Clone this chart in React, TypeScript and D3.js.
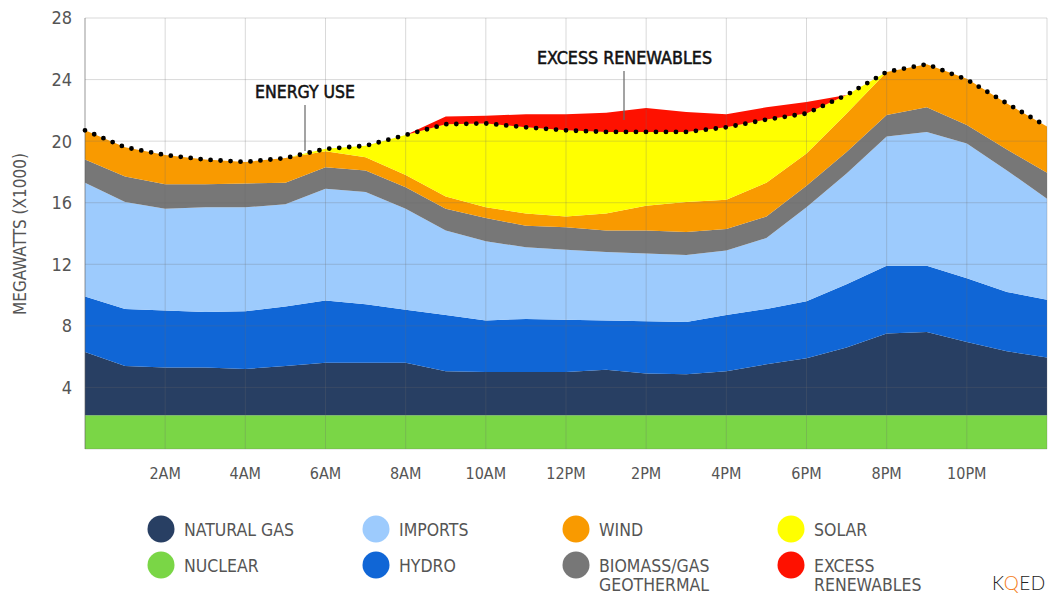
import * as d3 from 'd3';
import React, { useRef, useEffect } from 'react';

// hourly values, megawatts (x1000)
const hours = [0, 1, 2, 3, 4, 5, 6, 7, 8, 9, 10, 11, 12, 13, 14, 15, 16, 17, 18, 19, 20, 21, 22, 23, 24];
const nuclear = [2.2, 2.2, 2.2, 2.2, 2.2, 2.2, 2.2, 2.2, 2.2, 2.2, 2.2, 2.2, 2.2, 2.2, 2.2, 2.2, 2.2, 2.2, 2.2, 2.2, 2.2, 2.2, 2.2, 2.2, 2.2];
const naturalGas = [4.1, 3.2, 3.1, 3.1, 3.0, 3.2, 3.4, 3.4, 3.4, 2.85, 2.8, 2.8, 2.8, 2.95, 2.7, 2.65, 2.85, 3.3, 3.7, 4.4, 5.3, 5.4, 4.75, 4.15, 3.75];
const hydro = [3.6, 3.7, 3.7, 3.6, 3.75, 3.85, 4.05, 3.8, 3.45, 3.65, 3.35, 3.45, 3.4, 3.2, 3.4, 3.4, 3.65, 3.6, 3.7, 4.1, 4.4, 4.3, 4.15, 3.85, 3.75];
const imports = [7.4, 6.95, 6.6, 6.8, 6.75, 6.65, 7.25, 7.3, 6.55, 5.5, 5.15, 4.65, 4.55, 4.45, 4.4, 4.35, 4.2, 4.6, 6.1, 7.2, 8.4, 8.7, 8.75, 7.9, 6.55];
const biomass = [1.5, 1.65, 1.6, 1.5, 1.55, 1.4, 1.4, 1.4, 1.4, 1.4, 1.5, 1.4, 1.45, 1.4, 1.5, 1.5, 1.4, 1.4, 1.4, 1.4, 1.4, 1.6, 1.2, 1.35, 1.7];
const wind = [1.9, 1.9, 1.9, 1.6, 1.4, 1.6, 1.05, 0.85, 0.8, 0.8, 0.7, 0.8, 0.7, 1.1, 1.6, 1.95, 1.9, 2.2, 2.1, 2.5, 2.8, 2.8, 3.0, 3.0, 3.0];
const solar = [0, 0, 0, 0, 0, 0, 0.15, 0.75, 2.6, 4.7, 5.45, 5.6, 5.6, 5.3, 4.8, 4.55, 4.7, 4.1, 2.6, 1.2, 0, 0, 0, 0, 0];
const excess = [0, 0, 0, 0, 0, 0, 0, 0, 0, 0.5, 0.5, 0.85, 1.05, 1.25, 1.55, 1.3, 0.85, 0.8, 0.75, 0, 0, 0, 0, 0, 0];
const demand = [20.7, 19.6, 19.1, 18.8, 18.65, 18.9, 19.5, 19.7, 20.4, 21.1, 21.15, 20.9, 20.7, 20.6, 20.6, 20.6, 20.9, 21.4, 21.8, 23.0, 24.5, 25.0, 24.0, 22.45, 20.95];

const yTicks = [4, 8, 12, 16, 20, 24, 28];
const xTickHours = [2, 4, 6, 8, 10, 12, 14, 16, 18, 20, 22];
const xTickLabels = ['2AM', '4AM', '6AM', '8AM', '10AM', '12PM', '2PM', '4PM', '6PM', '8PM', '10PM'];

const sourceKeys = ['nuclear', 'naturalGas', 'hydro', 'imports', 'biomass', 'wind', 'solar', 'excess'];
const sourceColors = {
  nuclear: '#7ad646',
  naturalGas: '#283f63',
  hydro: '#1066d6',
  imports: '#9dcbfd',
  biomass: '#777777',
  wind: '#f99a00',
  solar: '#ffff00',
  excess: '#fe1100',
};
const legendKeys = ['naturalGas', 'imports', 'wind', 'solar', 'nuclear', 'hydro', 'biomass', 'excess'];
const legendLabels = [['NATURAL GAS'], ['IMPORTS'], ['WIND'], ['SOLAR'], ['NUCLEAR'], ['HYDRO'], ['BIOMASS/GAS', 'GEOTHERMAL'], ['EXCESS', 'RENEWABLES']];

const FONT = "'Liberation Sans Narrow', 'DejaVu Sans Condensed', 'Roboto', sans-serif";

const App = () => {
  const ref = useRef<SVGSVGElement>(null);

  useEffect(() => {
    const svg = d3.select(ref.current);
    svg.selectAll('*').remove();

    const x = d3.scaleLinear().domain([0, 24]).range([85, 1047]);
    const y = d3.scaleLinear().domain([0, 28]).range([449, 18]);

    const table = hours.map((h, i) => ({
      hour: h,
      nuclear: nuclear[i],
      naturalGas: naturalGas[i],
      hydro: hydro[i],
      imports: imports[i],
      biomass: biomass[i],
      wind: wind[i],
      solar: solar[i],
      excess: excess[i],
    }));
    const series = d3.stack<any>().keys(sourceKeys)(table);

    const area = d3.area<any>()
      .x(d => x(d.data.hour))
      .y0(d => y(d[0]))
      .y1(d => y(d[1]));

    svg.append('g')
      .selectAll('path')
      .data(series)
      .join('path')
      .attr('fill', d => sourceColors[d.key])
      .attr('d', area);

    // grid over the areas
    const grid = svg.append('g').attr('stroke', 'rgba(110,110,110,0.26)').attr('stroke-width', 1);
    [0, ...yTicks].forEach(t => {
      grid.append('line').attr('x1', x(0)).attr('x2', x(24)).attr('y1', y(t)).attr('y2', y(t));
    });
    [0, ...xTickHours, 24].forEach(h => {
      grid.append('line').attr('x1', x(h)).attr('x2', x(h)).attr('y1', y(0)).attr('y2', y(28));
    });
    svg.append('line')
      .attr('x1', x(0)).attr('x2', x(0)).attr('y1', y(0)).attr('y2', y(28))
      .attr('stroke', 'rgba(90,90,90,0.45)');

    // energy use, dotted
    const line = d3.line<number>().x((d, i) => x(hours[i])).y(d => y(d));
    svg.append('path')
      .datum(demand)
      .attr('d', line)
      .attr('fill', 'none')
      .attr('stroke', '#000')
      .attr('stroke-width', 4.8)
      .attr('stroke-linecap', 'round')
      .attr('stroke-dasharray', '0 10');

    // y axis labels
    svg.append('g').selectAll('text').data(yTicks).join('text')
      .attr('x', 72).attr('y', d => y(d)).attr('dy', '0.36em')
      .attr('text-anchor', 'end')
      .attr('font-family', FONT).attr('font-size', 18).attr('fill', '#555')
      .text(d => d);

    svg.append('text')
      .attr('transform', 'translate(26,234) rotate(-90)')
      .attr('text-anchor', 'middle')
      .attr('font-family', FONT).attr('font-size', 17).attr('fill', '#555')
      .text('MEGAWATTS (X1000)');

    // x axis labels
    svg.append('g').selectAll('text').data(xTickHours).join('text')
      .attr('x', d => x(d)).attr('y', 479)
      .attr('text-anchor', 'middle')
      .attr('font-family', FONT).attr('font-size', 16).attr('fill', '#555')
      .text((d, i) => xTickLabels[i]);

    // annotations
    svg.append('text').attr('x', 255).attr('y', 98)
      .attr('font-family', FONT).attr('font-size', 18).attr('fill', '#111')
      .attr('stroke', '#111').attr('stroke-width', 0.5)
      .attr('textLength', 100).attr('lengthAdjust', 'spacingAndGlyphs')
      .text('ENERGY USE');
    svg.append('line').attr('x1', 305).attr('x2', 305).attr('y1', 105).attr('y2', 151)
      .attr('stroke', '#666').attr('stroke-width', 1.2);
    svg.append('text').attr('x', 537).attr('y', 64)
      .attr('font-family', FONT).attr('font-size', 17).attr('fill', '#111')
      .attr('stroke', '#111').attr('stroke-width', 0.5)
      .attr('textLength', 175).attr('lengthAdjust', 'spacingAndGlyphs')
      .text('EXCESS RENEWABLES');
    svg.append('line').attr('x1', 624).attr('x2', 624).attr('y1', 71).attr('y2', 120)
      .attr('stroke', '#666').attr('stroke-width', 1.2);

    // legend
    const colX = [161, 376, 576, 791];
    const rowY = [529, 565];
    const leg = svg.append('g').selectAll('g').data(legendKeys).join('g')
      .attr('transform', (d, i) => `translate(${colX[i % 4]},${rowY[Math.floor(i / 4)]})`);
    leg.append('circle').attr('r', 13.5).attr('fill', d => sourceColors[d]);
    leg.each(function (d, i) {
      const t = d3.select(this).append('text')
        .attr('x', 23).attr('y', 7)
        .attr('font-family', FONT).attr('font-size', 17.5).attr('fill', '#555');
      legendLabels[i].forEach((s, j) => {
        t.append('tspan').attr('x', 23).attr('dy', j === 0 ? 0 : 19).text(s);
      });
    });

    // logo
    const logo = svg.append('text').attr('x', 992).attr('y', 590)
      .attr('font-family', "'Lato', 'Open Sans', sans-serif").attr('font-weight', 300)
      .attr('font-size', 19).attr('letter-spacing', 0.5).attr('fill', '#222');
    logo.append('tspan').text('K');
    logo.append('tspan').attr('fill', '#f47b20').text('Q');
    logo.append('tspan').text('ED');
  });

  return (
    <svg ref={ref} width={1049} height={594}
      style={{ position: 'absolute', left: 0, top: 0, background: '#fff' }} />
  );
};

export default App;
